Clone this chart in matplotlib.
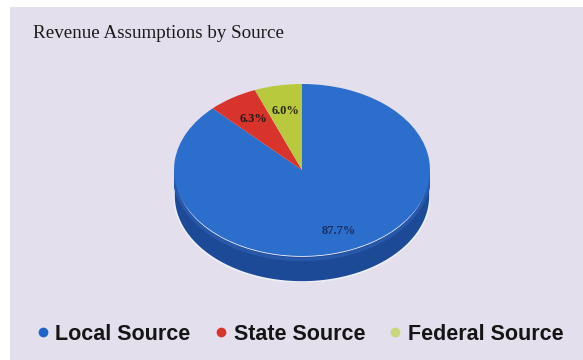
import numpy as np
import matplotlib
matplotlib.use("Agg")
import matplotlib.pyplot as plt
from matplotlib.patches import Rectangle, Polygon
from matplotlib.lines import Line2D

# Revenue shares by source
sources = ["Local Source", "State Source", "Federal Source"]
shares = [87.7, 6.3, 6.0]
top_colors = ["#2B6ECC", "#D8342C", "#B9C93D"]
legend_colors = ["#1F63C8", "#D8342C", "#C9D77A"]
label_colors = ["#1B2F66", "#2A1A1A", "#2A2A10"]
label_radius = [0.76, 0.70, 0.70]

W, H = 583, 360
fig = plt.figure(figsize=(W / 100, H / 100), dpi=100)
fig.patch.set_facecolor("white")

# lavender panel behind the chart
fig.patches.append(Rectangle((10 / W, 0), 1 - 10 / W, 1 - 7 / H,
                             transform=fig.transFigure,
                             facecolor="#E3DFEC", edgecolor="none", zorder=-1))

fig.text(33 / W, 1 - 33 / H, "Revenue Assumptions by Source",
         family="Liberation Serif", fontsize=13.7, color="#1a1a1a",
         va="center", ha="left")

# pie axes: top face is an ellipse, extra room below for the side wall
depth = 26 / 86
left, top_px, rx_px, ry_px = 174, 84, 256, 172
ax = fig.add_axes([left / W, (H - (top_px + ry_px + 26)) / H,
                   rx_px / W, (ry_px + 26) / H])

t = np.linspace(np.pi, 2 * np.pi, 200)
side = np.concatenate([np.c_[np.cos(t), np.sin(t)],
                       np.c_[np.cos(t[::-1]), np.sin(t[::-1]) - depth]])
ax.add_patch(Polygon(side, closed=True, facecolor="#1D4A96",
                     edgecolor="#EEF0F8", linewidth=1.2, zorder=1))
ax.plot(np.cos(t), np.sin(t) - 0.04, color="#2758AA", lw=2.5, zorder=1.5)

wedges, _ = ax.pie(shares, colors=top_colors, startangle=90,
                   counterclock=False, radius=1,
                   wedgeprops=dict(linewidth=0, zorder=2))

for w, r, txt, c in zip(wedges, label_radius, shares, label_colors):
    mid = np.deg2rad((w.theta1 + w.theta2) / 2)
    ax.text(r * np.cos(mid), r * np.sin(mid), f"{txt:.1f}%",
            family="Liberation Serif", fontsize=9, fontweight="bold",
            color=c, ha="center", va="center", zorder=3)

ax.set_aspect("auto")
ax.set_xlim(-1, 1)
ax.set_ylim(-1 - depth, 1)
ax.axis("off")

handles = [Line2D([], [], marker="o", linestyle="none", markersize=7,
                  markerfacecolor=c, markeredgecolor="none")
           for c in legend_colors]
fig.legend(handles, sources, loc="center", ncol=3, frameon=False,
           bbox_to_anchor=(300 / W, 1 - 334 / H),
           prop=dict(family="Liberation Sans", size=15.5, weight="bold"),
           labelcolor="#151515",
           handlelength=0.6, handletextpad=0.3, columnspacing=1.1)

fig.savefig("out.png", dpi=100)
